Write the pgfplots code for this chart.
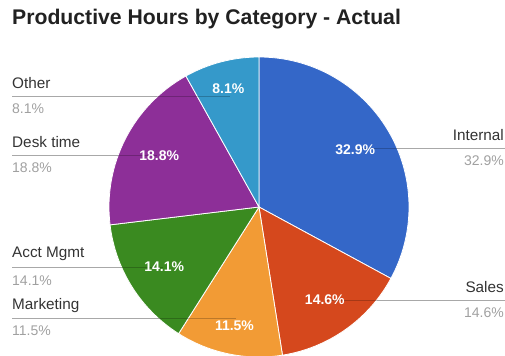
\documentclass[border=0pt]{standalone}
\usepackage{pgfplots}
\pgfplotsset{compat=1.18}
\usepackage{pgfplotstable}
\usepackage{fontspec}
\setmainfont{Liberation Sans}

\definecolor{cInternal}{HTML}{3467C8}
\definecolor{cSales}{HTML}{D5481D}
\definecolor{cMarketing}{HTML}{F29B35}
\definecolor{cAcct}{HTML}{3A8A20}
\definecolor{cDesk}{HTML}{8D2F98}
\definecolor{cOther}{HTML}{3599CA}
\definecolor{lblname}{HTML}{333333}
\definecolor{lblpct}{HTML}{A0A0A0}
\definecolor{leader}{HTML}{A8A8A8}

\pgfplotstableread[col sep=comma]{
label,value,color,lr
Internal,32.9,cInternal,112
Sales,14.6,cSales,114
Marketing,11.5,cMarketing,121
Acct Mgmt,14.1,cAcct,112
Desk time,18.8,cDesk,112
Other,8.1,cOther,122
}\piedata

\begin{document}
\begin{tikzpicture}
\useasboundingbox (0,0) rectangle (505bp,356bp);
\clip (0,0) rectangle (505bp,356bp);
\def\cx{259}\def\cy{149}\def\R{150}\def\rl{114}
\xdef\ang{90}
\pgfplotsforeachungrouped \i in {0,...,5}{%
  \pgfplotstablegetelem{\i}{value}\of\piedata\let\v\pgfplotsretval
  \pgfplotstablegetelem{\i}{lr}\of\piedata\let\lr\pgfplotsretval
  \pgfplotstablegetelem{\i}{color}\of\piedata\let\cn\pgfplotsretval
  \pgfplotstablegetelem{\i}{label}\of\piedata\let\lab\pgfplotsretval
  \colorlet{slice\i}{\cn}%
  \pgfmathsetmacro\ea{\ang-3.6*\v}%
  \pgfmathsetmacro\ma{(\ang+\ea)/2}%
  \pgfmathsetmacro\px{\cx+\lr*cos(\ma)}%
  \pgfmathsetmacro\py{\cy+\lr*sin(\ma)}%
  \pgfmathsetmacro\lx{\cx+\rl*cos(\ma)}%
  \pgfmathsetmacro\ly{\cy+\rl*sin(\ma)}%
  \pgfmathsetmacro\nya{\ly+13.5}%
  \pgfmathsetmacro\nyb{\ly-12.5}%
  \pgfmathtruncatemacro\isleft{cos(\ma)<0}%
  \pgfmathsetmacro\rat{(\ly-\cy)/\R}%
  \pgfmathsetmacro\edge{\R*sqrt(1-\rat*\rat)}%
  \ifnum\isleft=1
    \expandafter\xdef\csname ex\i\endcsname{12}%
    \expandafter\xdef\csname tx\i\endcsname{12}%
    \expandafter\xdef\csname an\i\endcsname{west}%
    \pgfmathsetmacro\bx{\cx-\edge}%
  \else
    \expandafter\xdef\csname ex\i\endcsname{505}%
    \expandafter\xdef\csname tx\i\endcsname{504}%
    \expandafter\xdef\csname an\i\endcsname{east}%
    \pgfmathsetmacro\bx{\cx+\edge}%
  \fi
  \expandafter\xdef\csname bx\i\endcsname{\bx}%
  \expandafter\xdef\csname sa\i\endcsname{\ang}%
  \expandafter\xdef\csname ea\i\endcsname{\ea}%
  \expandafter\xdef\csname px\i\endcsname{\px}%
  \expandafter\xdef\csname py\i\endcsname{\py}%
  \expandafter\xdef\csname lx\i\endcsname{\lx}%
  \expandafter\xdef\csname ly\i\endcsname{\ly}%
  \expandafter\xdef\csname nya\i\endcsname{\nya}%
  \expandafter\xdef\csname nyb\i\endcsname{\nyb}%
  \expandafter\xdef\csname val\i\endcsname{\v}%
  \expandafter\xdef\csname lab\i\endcsname{\lab}%
  \xdef\ang{\ea}%
}
\begin{axis}[at={(0,0)}, anchor=south west, x=1bp, y=1bp, scale only axis,
  xmin=0, xmax=505, ymin=0, ymax=356, hide axis, clip=false]
  \pgfplotsinvokeforeach{0,...,5}{%
    \fill[fill=slice#1, draw=white, line width=0.8bp]
      (axis cs:\cx,\cy) -- ++(\csname sa#1\endcsname:\R bp)
      arc[start angle=\csname sa#1\endcsname, end angle=\csname ea#1\endcsname, radius=\R bp] -- cycle;
  }
  \pgfplotsinvokeforeach{0,...,5}{%
    \draw[leader, line width=0.9bp] (axis cs:\csname ex#1\endcsname,\csname ly#1\endcsname) -- (axis cs:\csname bx#1\endcsname,\csname ly#1\endcsname);
    \draw[black, opacity=0.22, line width=0.9bp] (axis cs:\csname bx#1\endcsname,\csname ly#1\endcsname) -- (axis cs:\csname lx#1\endcsname,\csname ly#1\endcsname);
    \node[anchor=\csname an#1\endcsname, inner sep=0pt, text=lblname, font=\fontsize{15.3bp}{17bp}\selectfont]
      at (axis cs:\csname tx#1\endcsname,\csname nya#1\endcsname) {\csname lab#1\endcsname};
    \node[anchor=\csname an#1\endcsname, inner sep=0pt, text=lblpct, font=\fontsize{14bp}{16bp}\selectfont]
      at (axis cs:\csname tx#1\endcsname,\csname nyb#1\endcsname) {\csname val#1\endcsname\%};
    \node[inner sep=0pt, text=white, font=\bfseries\fontsize{14bp}{16bp}\selectfont]
      at (axis cs:\csname px#1\endcsname,\csname py#1\endcsname) {\csname val#1\endcsname\%};
  }
  \node[anchor=west, inner sep=0pt, text={rgb,255:red,33;green,33;blue,33}, font=\bfseries\fontsize{21.2bp}{25bp}\selectfont]
    at (axis cs:12,337) {Productive Hours by Category - Actual};
\end{axis}
\end{tikzpicture}
\end{document}
